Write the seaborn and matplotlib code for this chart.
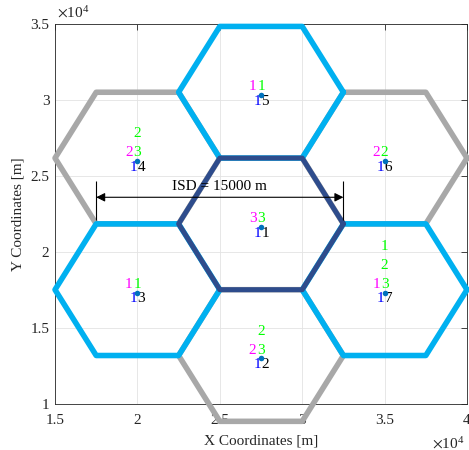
import numpy as np
import pandas as pd
import matplotlib
matplotlib.use("Agg")
import matplotlib.pyplot as plt
import seaborn as sns

# --- cell layout (hexagonal 7-cell cluster) ---
cell_ids = [1, 2, 3, 4, 5, 6, 7]
cell_x = [27500, 27500, 20000, 20000, 27500, 35000, 35000]
cell_y = [21850, 13190, 17520, 26180, 30510, 26180, 17520]
cell_tier = ["center", "gray", "blue", "gray", "blue", "gray", "blue"]
cell_radius = 5000

# base-station positions
bs_x = [27500, 27500, 20000, 20000, 27500, 35000, 35000]
bs_y = [21650, 13000, 17330, 25980, 30310, 25980, 17330]

# per-cell index labels
blue_labels = [1, 1, 1, 1, 1, 1, 1]
magenta_labels = [3, 2, 1, 2, 1, 2, 1]
green_labels = [[3], [2, 3], [1], [2, 3], [1], [2], [1, 2, 3]]  # top to bottom

# inter-site distance marker
isd_start, isd_end, isd_y = 17500, 32500, 23600
isd_bar_lo, isd_bar_hi = 22100, 24700
isd_text_y = 24280
isd_label = "ISD = 15000 m"

x_ticks = [15000, 20000, 25000, 30000, 35000, 40000]
y_ticks = [10000, 15000, 20000, 25000, 30000, 35000]

tier_colors = {"gray": "#A8A8A8", "blue": "#00B0F0", "center": "#2E4C8C"}

sns.set_theme(style="white")
plt.rcParams["font.family"] = ["Liberation Serif", "DejaVu Serif"]
plt.rcParams["mathtext.fontset"] = "stix"

# hexagon outlines (flat-top) built from the centres
rows = []
angles = np.deg2rad(np.arange(0, 361, 60))
for cid, cx, cy, tier in zip(cell_ids, cell_x, cell_y, cell_tier):
    for k, a in enumerate(angles):
        rows.append({"cell": cid, "tier": tier, "order": k,
                     "x": cx + cell_radius * np.cos(a),
                     "y": cy + cell_radius * np.sin(a)})
hex_df = pd.DataFrame(rows)

fig = plt.figure(figsize=(4.69, 4.5), dpi=100)
ax = fig.add_axes([55 / 469, 46 / 450, 412 / 469, 380 / 450])

for tier, lw in [("gray", 4.0), ("blue", 4.0), ("center", 3.6)]:
    n_before = len(ax.lines)
    sns.lineplot(data=hex_df[hex_df["tier"] == tier], x="x", y="y",
                 units="cell", estimator=None, sort=False,
                 color=tier_colors[tier], linewidth=lw, ax=ax, legend=False)
    for ln in ax.lines[n_before:]:
        ln.set_clip_on(False)
        ln.set_zorder(3)

# ISD arrow
ax.annotate("", xy=(isd_end, isd_y), xytext=(isd_start, isd_y),
            arrowprops=dict(arrowstyle="<|-|>", color="black", lw=0.8,
                            mutation_scale=13, shrinkA=0, shrinkB=0),
            zorder=6)
ax.vlines([isd_start, isd_end], isd_bar_lo, isd_bar_hi, color="black",
          lw=0.8, zorder=6)
ax.text((isd_start + isd_end) / 2, isd_text_y, isd_label, ha="center",
        va="center", fontsize=11, color="black", zorder=6)

# labels around each base station
px = 0.72  # points per pixel at 100 dpi
for i in range(len(cell_ids)):
    xy = (bs_x[i], bs_y[i])
    kw = dict(textcoords="offset points", ha="center", va="center",
              fontsize=11, zorder=7)
    ax.annotate(str(blue_labels[i]), xy, xytext=(-4 * px, -6.4 * px),
                color="#0000FF", **kw)
    ax.annotate(str(cell_ids[i]), xy, xytext=(4 * px, -6.4 * px),
                color="black", **kw)
    ax.annotate(str(magenta_labels[i]), xy, xytext=(-8.5 * px, 8.3 * px),
                color="#FF00FF", **kw)
    g = green_labels[i]
    for j, val in enumerate(reversed(g)):
        ax.annotate(str(val), xy, xytext=(0, (8.3 + 19 * j) * px),
                    color="#00FF00", **kw)

sns.scatterplot(x=bs_x, y=bs_y, color="#0072BD", s=16, linewidth=0,
                ax=ax, zorder=8, legend=False)

ax.set_xlim(15000, 40000)
ax.set_ylim(10000, 35000)
ax.set_xticks(x_ticks)
ax.set_yticks(y_ticks)
ax.set_xticklabels([f"{v / 1e4:g}" for v in x_ticks])
ax.set_yticklabels([f"{v / 1e4:g}" for v in y_ticks])
ax.grid(True, color="#E3E3E3", lw=0.6, zorder=0)
ax.set_axisbelow(True)
ax.tick_params(direction="in", length=4, width=0.6, colors="#262626",
               labelsize=11, top=True, right=True)
ax.tick_params(axis="x", pad=7)
ax.tick_params(axis="y", pad=4)
for sp in ax.spines.values():
    sp.set_color("#262626")
    sp.set_linewidth(0.6)
    sp.set_zorder(2)

ax.set_xlabel("X Coordinates [m]", fontsize=11, color="#262626")
ax.set_ylabel("Y Coordinates [m]", fontsize=11, color="#262626")
ax.xaxis.set_label_coords(0.5, -0.08)
ax.yaxis.set_label_coords(-0.074, 0.5)

ax.text(0.005, 1.008, r"$\times\mathregular{10^{4}}$", transform=ax.transAxes,
        ha="left", va="bottom", fontsize=11, color="#262626")
ax.text(0.993, -0.118, r"$\times\mathregular{10^{4}}$", transform=ax.transAxes,
        ha="right", va="baseline", fontsize=11, color="#262626")

fig.savefig("out.png", dpi=100)
